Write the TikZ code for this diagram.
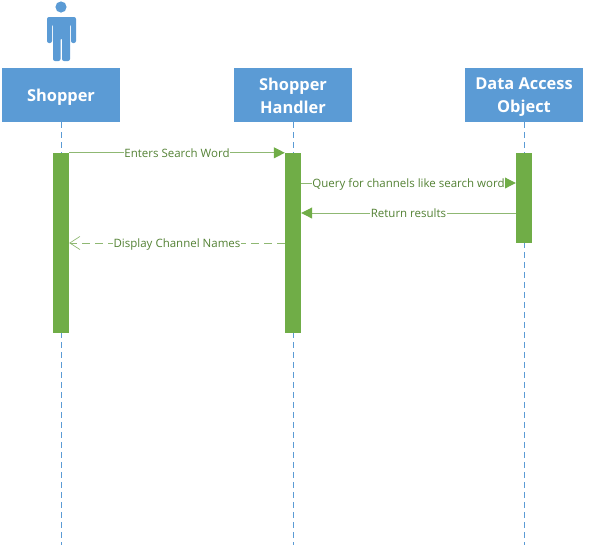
\documentclass[tikz,border=0pt]{standalone}
\usepackage{fontspec}
\setmainfont{Open Sans}
\usetikzlibrary{arrows.meta}
\definecolor{boxblue}{HTML}{5B9BD5}
\definecolor{bargreen}{HTML}{70AD47}
\definecolor{txtgreen}{HTML}{548235}
\definecolor{linegreen}{HTML}{8FB873}
\tikzset{
  x=1pt,y=-1pt,
  lifebox/.style={draw=none,fill=boxblue,text=white,minimum width=118pt,minimum height=54pt,align=center,font=\fontsize{16.4pt}{23pt}\selectfont\bfseries,inner sep=0pt},
  bar/.style={draw=none,fill=bargreen,minimum width=16pt,inner sep=0pt},
  lifeline/.style={draw=boxblue,line width=0.8pt,dash pattern=on 6pt off 4pt},
  msg/.style={draw=linegreen,line width=1pt},
  solidtip/.style={-{Triangle[length=11pt,width=11pt,fill=bargreen,color=bargreen]}},
  opentip/.style={-{Straight Barb[length=10pt,width=13pt,line width=0.7pt,color=linegreen]}},
  msglabel/.style={fill=white,text=txtgreen,font=\fontsize{11.5pt}{13pt}\selectfont,inner sep=0.6pt,text height=12pt,text depth=3pt,midway}
}
\begin{document}
\begin{tikzpicture}
\useasboundingbox (0,0) rectangle (589,547);
\coordinate (e1) at (61,545);
\coordinate (e2) at (293,545);
\coordinate (e3) at (524,545);
\node[lifebox] (shopper) at (61,95) {\rule{0pt}{16pt}Shopper};
\node[lifebox] (handler) at (293,95) {\rule{0pt}{14.5pt}Shopper\\Handler};
\node[lifebox] (dao) at (524,95) {\rule{0pt}{16.5pt}Data Access\\Object};
\draw[lifeline] (shopper.south) -- (e1);
\draw[lifeline] (handler.south) -- (e2);
\draw[lifeline] (dao.south) -- (e3);
\node[bar,minimum height=180pt] (a1) at (61,243) {};
\node[bar,minimum height=180pt] (a2) at (293,243) {};
\node[bar,minimum height=90pt] (a3) at (524,198) {};
% actor
\fill[boxblue] (61,7) circle (5.6);
\fill[boxblue,rounded corners=2pt] (47,43) -- (47,17) -- (76,17) -- (76,43) -- (71,43) -- (71,24) -- (70,24) -- (70,61) -- (62,61) -- (62,38) -- (60.5,38) -- (60.5,61) -- (53,61) -- (53,24) -- (52,24) -- (52,43) -- cycle;
% messages
\draw[msg,solidtip] (a1.north east) -- node[msglabel] {Enters Search Word} (a2.north west);
\coordinate (q1) at (a2.east |- 0,183);
\coordinate (q2) at (a3.west |- 0,183);
\draw[msg,solidtip] (q1) -- node[msglabel] {Query for channels like search word} (q2);
\coordinate (r1) at (a3.west |- 0,213);
\coordinate (r2) at (a2.east |- 0,213);
\draw[msg,solidtip] (r1) -- node[msglabel] {Return results} (r2);
\coordinate (d1) at (a2.west |- 0,243);
\coordinate (d2) at (a1.east |- 0,243);
\draw[msg,opentip,dash pattern=on 8pt off 5pt] (d1) -- node[msglabel,pos=0.5] {Display Channel Names} (d2);
\end{tikzpicture}
\end{document}
